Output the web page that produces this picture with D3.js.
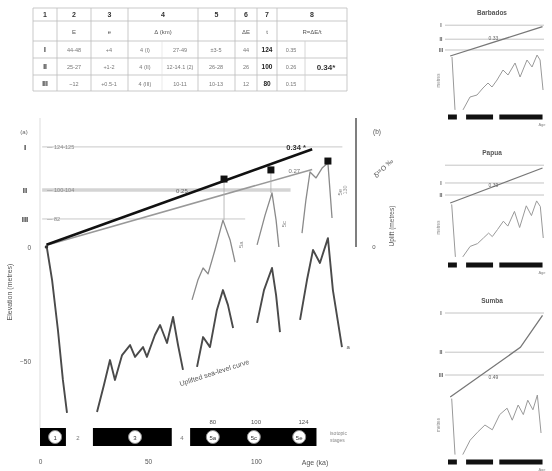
<!DOCTYPE html>
<html>
<head>
<meta charset="utf-8">
<script src="https://cdn.jsdelivr.net/npm/d3@7"></script>
<style>
body { margin: 0; background: #fff; }
svg { will-change: transform; }
text { font-family: "Liberation Sans", Arial, sans-serif; }
</style>
</head>
<body>
<script>
// ---- data ----
var tableHead = ["1", "2", "3", "4", "5", "6", "7", "8"];
var tableUnits = ["", "E", "e", "Δ (km)", "", "ΔE", "t", "R=ΔE/t"];
var tableRows = [
  ["I", "44-48", "+4", "4 (I)", "27-49", "±3-5", "44", "124", "0.35"],
  ["II", "25-27", "+1-2", "4 (II)", "12-14.1 (2)", "26-28", "26", "100", "0.26"],
  ["III", "~12", "+0.5-1", "4 (III)", "10-11", "10-13", "12", "80", "0.15"]
];
var tableMean = "0.34*";

var levels = [
  {name: "I", m: 43.9, note: "124-125", end: 140},
  {name: "II", m: 25, note: "100-104", end: 116},
  {name: "III", m: 12.3, note: "82", end: 95}
];
var rates = [{rate: 0.34, label: "0.34 *"}, {rate: 0.27, label: "0.27"}];
var rateStart = 3, rateEnd = 126;

// sea-level curve (age ka, metres)
var lowerCurve = [
  [[3.2, -0.4], [5.6, -14.5], [8.3, -36.4], [10.6, -58.3], [12.5, -72.8]],
  [[26.4, -72.4], [29.6, -60.5], [32.4, -49.6], [34.7, -58.3], [38, -47.4], [41.7, -43], [44, -48.2],
   [47.7, -43.9], [49.5, -48.2], [53.2, -38.6], [55.6, -34.2], [58.8, -42.1], [61.6, -30.7], [63.9, -43], [66.2, -53.9]],
  [[72.7, -52.6], [75.5, -39.5], [78.7, -43.9], [81.9, -27.6], [84.7, -18.9], [87, -25.4], [89.4, -35.5]],
  [[100.5, -33.3], [103.7, -18.9], [107.4, -9.2], [109.3, -21.1], [111.1, -37.3]],
  [[120.4, -32], [123.6, -14.5], [126.4, -1.3], [129.6, -7], [133.3, 3.9], [135.6, -18.9], [139.8, -43.9]]
];
// uplifted sea-level curve
var upperCurve = [
  [[70.4, -23.2], [73.1, -14.5], [75.5, -9.2], [77.8, -11.8], [81, -1.3], [84.7, 11.8], [88, 3.1], [90.3, -6.6]],
  [[100.5, 0.9], [104.2, 14], [107.4, 23.7], [109.3, 11.8], [110.6, 0]],
  [[121.3, 6.1], [123.1, 20.6], [125, 32.9], [127.8, 30.3], [130.6, 34.6], [133.3, 36.8], [135.2, 12.7]]
];
var terraces = [[85.2, 29.8, 11.8], [106.9, 33.8, 23.7], [133.3, 37.7, 36.8]];
var peakLabels = [{age: 94, m: 1, text: "5a"}, {age: 114, m: 10, text: "5c"}, {age: 140, m: 24, text: "5e"}];

var stageBars = [{start: 0, end: 12}, {start: 24.5, end: 61}, {start: 69.5, end: 128}];
var stageCircles = [{age: 7, text: "1"}, {age: 44, text: "3"}, {age: 80, text: "5a"}, {age: 99, text: "5c"}, {age: 120, text: "5e"}];
var evenStages = [{age: 17.6, text: "2"}, {age: 65.7, text: "4"}];
var substageAges = [{age: 80, text: "80"}, {age: 100, text: "100"}, {age: 122, text: "124"}];
var xTicks = [0, 50, 100];
var yTicks = [0, -50];

// small panels
var panels = [
  {title: "Barbados", y0: 56, k: 0.7, bars: 117, levels: [44, 24, 8.6], names: ["I", "II", "III"],
   slope: [[3, 0], [128, 42]], slopeLabel: "0.33",
   curve: [[[5.4, -1.4], [9.5, -77]],
           [[20.3, -77], [29.8, -58.6], [39.3, -55.7], [47.4, -45.7], [54.2, -38.6], [59.6, -44.3], [66.4, -34.3],
            [74.5, -20], [81.3, -27.1], [90.8, -10], [97.6, -30], [107, -5.7], [113.8, -15.7], [120.6, 1.4], [124.7, -5.7], [128.7, -48.6]]]},
  {title: "Papua", y0: 203, k: 0.7, bars: 265, levels: [54, 28.6, 11.4], names: ["", "I", "II"],
   slope: [[3, 0], [128, 50]], slopeLabel: "0.39",
   curve: [[[5, -2], [10, -77]],
           [[20, -77], [30, -62], [40, -58], [48, -50], [55, -43], [60, -48], [67, -38], [75, -26], [81, -33],
            [90, -12], [97, -35], [106, -4], [113, -18], [120, 3], [125, -5], [129, -50]]]},
  {title: "Sumba", y0: 397, k: 0.8, bars: 462, levels: [105, 56, 27.5], names: ["I", "II", "III"],
   slope: [[3, 0], [98, 62], [128, 102]], slopeLabel: "0.49",
   curve: [[[5, -2], [9.5, -72]],
           [[20, -72], [30, -54], [40, -44], [50, -35], [60, -41], [70, -22], [80, -14], [87, -29], [95, -10],
            [102, -22], [108, -4], [115, -16], [121, 2.5], [126, -45]]]}
];

// ---- svg ----
var svg = d3.select("body")
    .append("svg")
    .attr("width", 552)
    .attr("height", 471)
    .style("display", "block");

var x = d3.scaleLinear().domain([0, 100]).range([40, 256]);
var y = d3.scaleLinear().domain([0, -50]).range([247, 361]);
var line = d3.line().x(function (d) { return x(d[0]); }).y(function (d) { return y(d[1]); });

// ---- table ----
var colX = [33, 57, 91, 128, 198, 235, 257, 277, 347];
var rowY = [8, 21, 41, 58, 75, 91];
var tbl = svg.append("g");
colX.forEach(function (cx) {
  tbl.append("line").attr("x1", cx).attr("x2", cx).attr("y1", rowY[0]).attr("y2", rowY[5])
    .attr("stroke", "#bbb").attr("stroke-width", 0.8);
});
rowY.forEach(function (ry) {
  tbl.append("line").attr("x1", colX[0]).attr("x2", colX[8]).attr("y1", ry).attr("y2", ry)
    .attr("stroke", "#bbb").attr("stroke-width", 0.8);
});
tbl.append("line").attr("x1", 305).attr("x2", 305).attr("y1", rowY[2]).attr("y2", rowY[5])
  .attr("stroke", "#ccc").attr("stroke-width", 0.8);
tbl.append("line").attr("x1", 162).attr("x2", 162).attr("y1", rowY[2]).attr("y2", rowY[5])
  .attr("stroke", "#ddd").attr("stroke-width", 0.6);

function midCol(i) { return (colX[i] + colX[i + 1]) / 2; }
tableHead.forEach(function (t, i) {
  tbl.append("text").attr("x", midCol(i)).attr("y", 17).attr("text-anchor", "middle")
    .attr("font-size", 7).attr("font-weight", "bold").attr("fill", "#333").text(t);
});
tableUnits.forEach(function (t, i) {
  tbl.append("text").attr("x", midCol(i)).attr("y", 34).attr("text-anchor", "middle")
    .attr("font-size", 6).attr("fill", "#555").text(t);
});
var cellX = [45, 74, 109, 145, 180, 216, 246, 267, 291];
tableRows.forEach(function (r, j) {
  r.forEach(function (t, i) {
    tbl.append("text").attr("x", cellX[i]).attr("y", rowY[j + 2] + 11).attr("text-anchor", "middle")
      .attr("font-size", i == 0 || i == 7 ? 6.5 : 5.5)
      .attr("font-weight", i == 0 || i == 7 ? "bold" : "normal")
      .attr("fill", i == 0 || i == 7 ? "#222" : "#777").text(t);
  });
});
tbl.append("text").attr("x", 326).attr("y", 70).attr("text-anchor", "middle")
  .attr("font-size", 8).attr("font-weight", "bold").attr("fill", "#333").text(tableMean);

// ---- main panel (a) ----
var g = svg.append("g");
g.append("line").attr("x1", 40).attr("x2", 40).attr("y1", 118).attr("y2", 430)
  .attr("stroke", "#ddd").attr("stroke-width", 1);
g.append("text").attr("x", 24).attr("y", 134).attr("text-anchor", "middle")
  .attr("font-size", 6).attr("fill", "#666").text("(a)");

levels.forEach(function (d, i) {
  g.append("line").attr("x1", x(1)).attr("x2", x(d.end)).attr("y1", y(d.m)).attr("y2", y(d.m))
    .attr("stroke", i == 1 ? "#d4d4d4" : "#c8c8c8").attr("stroke-width", i == 1 ? 3.5 : 1);
  g.append("text").attr("x", 25).attr("y", y(d.m) + 3).attr("text-anchor", "middle")
    .attr("font-size", 8).attr("font-weight", "bold").attr("fill", "#333").text(d.name);
  g.append("text").attr("x", 47).attr("y", y(d.m) + 2).attr("font-size", 5.5)
    .attr("fill", "#888").text("— " + d.note);
});

// uplift-rate lines
rates.slice().reverse().forEach(function (d) {
  g.append("line")
    .attr("x1", x(rateStart)).attr("y1", y(rateStart * d.rate))
    .attr("x2", x(rateEnd)).attr("y2", y(rateEnd * d.rate))
    .attr("stroke", d.rate == 0.34 ? "#111" : "#999")
    .attr("stroke-width", d.rate == 0.34 ? 2.6 : 1.6);
});
g.append("text").attr("x", x(114)).attr("y", y(rateEnd * 0.34) + 1).attr("font-size", 7.5)
  .attr("font-weight", "bold").attr("fill", "#333").text(rates[0].label);
g.append("text").attr("x", x(115)).attr("y", y(115 * 0.27) - 3).attr("font-size", 6)
  .attr("fill", "#777").text(rates[1].label);
g.append("text").attr("x", x(63)).attr("y", y(63 * 0.34) - 5).attr("font-size", 6)
  .attr("fill", "#666").text("0.25");
g.append("circle").attr("cx", x(rateStart)).attr("cy", y(0)).attr("r", 1.8).attr("fill", "#333");

// sea level curves
lowerCurve.forEach(function (seg) {
  g.append("path").attr("d", line(seg)).attr("fill", "none")
    .attr("stroke", "#4a4a4a").attr("stroke-width", 1.9).attr("stroke-linejoin", "round");
});
upperCurve.forEach(function (seg) {
  g.append("path").attr("d", line(seg)).attr("fill", "none")
    .attr("stroke", "#8a8a8a").attr("stroke-width", 1.3).attr("stroke-linejoin", "round");
});
terraces.forEach(function (d) {
  g.append("line").attr("x1", x(d[0])).attr("x2", x(d[0])).attr("y1", y(d[1])).attr("y2", y(d[2]))
    .attr("stroke", "#aaa").attr("stroke-width", 0.8);
  g.append("rect").attr("x", x(d[0]) - 3.5).attr("y", y(d[1]) - 3.5).attr("width", 7).attr("height", 7)
    .attr("fill", "#111");
});
peakLabels.forEach(function (d) {
  g.append("text").attr("transform", "translate(" + x(d.age) + "," + y(d.m) + ") rotate(-90)")
    .attr("text-anchor", "middle").attr("font-size", 6).attr("fill", "#888").text(d.text);
});
g.append("text").attr("x", x(140) + 4).attr("y", y(-44) + 2).attr("font-size", 6)
  .attr("fill", "#555").text("a");
g.append("text")
  .attr("transform", "translate(" + 215 + "," + 375 + ") rotate(-18)")
  .attr("text-anchor", "middle").attr("font-size", 7).attr("fill", "#555")
  .text("Uplifted sea-level curve");

// y axis labels
var yAxis = g.append("g").attr("transform", "translate(34,0)")
  .call(d3.axisLeft(y).tickValues(yTicks).tickSize(0).tickFormat(d3.format("d")));
yAxis.select(".domain").remove();
yAxis.selectAll("text").attr("font-size", 6.5).attr("fill", "#555");
g.append("text").attr("transform", "translate(12,292) rotate(-90)")
  .attr("text-anchor", "middle").attr("font-size", 7).attr("fill", "#555").text("Elevation (metres)");

// (b) uplift scale
g.append("line").attr("x1", 356).attr("x2", 356).attr("y1", 118).attr("y2", 247)
  .attr("stroke", "#555").attr("stroke-width", 1.5);
g.append("text").attr("x", 377).attr("y", 134).attr("text-anchor", "middle")
  .attr("font-size", 6.5).attr("fill", "#555").text("(b)");
g.append("text").attr("transform", "translate(385,170) rotate(-45)")
  .attr("text-anchor", "middle").attr("font-size", 7).attr("fill", "#555").text("δ¹⁸O ‰");
g.append("text").attr("transform", "translate(394,226) rotate(-90)")
  .attr("text-anchor", "middle").attr("font-size", 6.5).attr("fill", "#555").text("Uplift (metres)");
g.append("text").attr("x", 374).attr("y", 249).attr("text-anchor", "middle")
  .attr("font-size", 6).attr("fill", "#555").text("0");
g.append("text").attr("transform", "translate(347,190) rotate(-90)")
  .attr("text-anchor", "middle").attr("font-size", 5.5).attr("fill", "#999").text("130");

// isotope stage bars
stageBars.forEach(function (d) {
  g.append("rect").attr("x", x(d.start)).attr("y", 428).attr("width", x(d.end) - x(d.start))
    .attr("height", 18).attr("fill", "#000");
});
stageCircles.forEach(function (d) {
  g.append("circle").attr("cx", x(d.age)).attr("cy", 437).attr("r", 6.5)
    .attr("fill", "#fff").attr("stroke", "#888").attr("stroke-width", 1);
  g.append("text").attr("x", x(d.age)).attr("y", 439.5).attr("text-anchor", "middle")
    .attr("font-size", 6).attr("fill", "#333").text(d.text);
});
evenStages.forEach(function (d) {
  g.append("text").attr("x", x(d.age)).attr("y", 440).attr("text-anchor", "middle")
    .attr("font-size", 6).attr("fill", "#777").text(d.text);
});
substageAges.forEach(function (d) {
  g.append("text").attr("x", x(d.age)).attr("y", 424).attr("text-anchor", "middle")
    .attr("font-size", 6).attr("fill", "#555").text(d.text);
});
g.append("text").attr("x", 330).attr("y", 435).attr("font-size", 5).attr("fill", "#888").text("isotopic");
g.append("text").attr("x", 330).attr("y", 442).attr("font-size", 5).attr("fill", "#888").text("stages");

var xAxis = g.append("g").attr("transform", "translate(0,456)")
  .call(d3.axisBottom(x).tickValues(xTicks).tickSize(0));
xAxis.select(".domain").remove();
xAxis.selectAll("text").attr("font-size", 6.5).attr("fill", "#555");
g.append("text").attr("x", 315).attr("y", 465).attr("text-anchor", "middle")
  .attr("font-size", 7).attr("fill", "#555").text("Age (ka)");

// ---- small panels ----
var mx = d3.scaleLinear().domain([0, 130]).range([448, 544]);
panels.forEach(function (p) {
  var my = d3.scaleLinear().domain([0, 50]).range([p.y0, p.y0 - 50 * p.k]);
  var ml = d3.line().x(function (d) { return mx(d[0]); }).y(function (d) { return my(d[1]); });
  var pg = svg.append("g");
  var topY = my(p.levels[0]);
  pg.append("text").attr("x", 492).attr("y", topY - 10).attr("text-anchor", "middle")
    .attr("font-size", 6.5).attr("font-weight", "bold").attr("fill", "#555").text(p.title);
  p.levels.forEach(function (m, i) {
    pg.append("line").attr("x1", 445).attr("x2", 544).attr("y1", my(m)).attr("y2", my(m))
      .attr("stroke", "#c4c4c4").attr("stroke-width", 1);
    pg.append("text").attr("x", 441).attr("y", my(m) + 2).attr("text-anchor", "middle")
      .attr("font-size", 5).attr("font-weight", "bold").attr("fill", "#555").text(p.names[i]);
  });
  pg.append("path").attr("d", ml(p.slope)).attr("fill", "none")
    .attr("stroke", "#777").attr("stroke-width", 1.3);
  pg.append("text").attr("x", mx(55)).attr("y", my(p.slope[0][1] + 0.33 * 55) - 3)
    .attr("font-size", 5).attr("fill", "#666").text(p.slopeLabel);
  p.curve.forEach(function (seg) {
    pg.append("path").attr("d", ml(seg)).attr("fill", "none")
      .attr("stroke", "#999").attr("stroke-width", 1);
  });
  pg.append("text").attr("transform", "translate(440," + my(-35) + ") rotate(-90)")
    .attr("text-anchor", "middle").attr("font-size", 4.5).attr("fill", "#888").text("metres");
  stageBars.forEach(function (d) {
    pg.append("rect").attr("x", mx(d.start)).attr("y", p.bars - 2.5)
      .attr("width", mx(d.end) - mx(d.start)).attr("height", 5).attr("fill", "#111");
  });
  pg.append("text").attr("x", 542).attr("y", p.bars + 9).attr("text-anchor", "middle")
    .attr("font-size", 4).attr("fill", "#888").text("Age");
});
</script>
</body>
</html>
